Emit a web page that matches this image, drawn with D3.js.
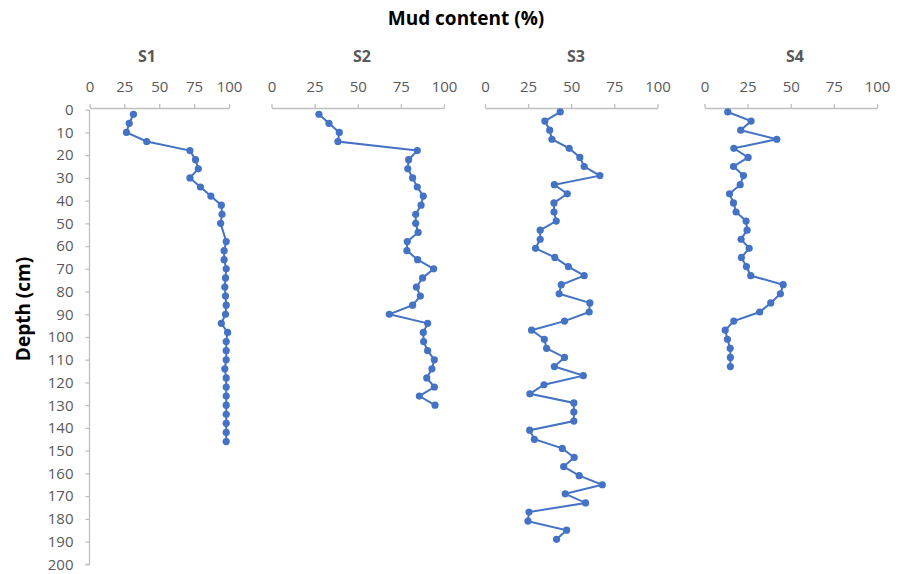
<!DOCTYPE html>
<html lang="en">
<head>
<meta charset="UTF-8">
<title>Mud content profiles</title>
<script src="https://d3js.org/d3.v7.min.js"></script>
<style>
  body { margin: 0; background: #fff; font-family: "Open Sans", "Noto Sans", sans-serif; }
  .axis path, .axis line { stroke: #bfbfbf; stroke-width: 1.3px; }
  .axis text { fill: #595959; font-size: 15px; font-family: "Open Sans", "Noto Sans", sans-serif; }
  .profile { fill: none; stroke: #4472c4; stroke-width: 2px; }
  .dot { fill: #4472c4; }
</style>
</head>
<body>
<svg width="901" height="574"></svg>
<script>
// Mud content (%) by depth (cm)
const stations = ["S1", "S2", "S3", "S4"];

const s1Depth = [2,6,10,14,18,22,26,30,34,38,42,46,50,58,62,66,70,74,78,82,86,90,94,98,102,106,110,114,118,122,126,130,134,138,142,146];
const s1Mud = [31.5,28.5,26.5,41,72,76,78,72,79.5,87,94.5,95,94,98,96.5,96.5,98,97.5,97,97.5,98,97.5,94.5,99,98,98,98,97,98,98,98,98,98,98,98,98];

const s2Depth = [2,6,10,14,18,22,26,30,34,38,42,46,50,54,58,62,66,70,74,78,82,86,90,94,98,102,106,110,114,118,122,126,130];
const s2Mud = [27.5,33.3,39.3,38.5,84.5,79.5,79,81.8,84.5,88,86.7,83.6,83.6,85,78.7,78.5,84.7,94,87.6,84,86.3,81.8,68.3,90.5,88,88.2,90.5,94.4,93,90,94.4,85.7,94.8];

const s3Depth = [1,5,9,13,17,21,25,29,33,37,41,45,49,53,57,61,65,69,73,77,81,85,89,93,97,101,105,109,113,117,121,125,129,133,137,141,145,149,153,157,161,165,169,173,177,181,185,189];
const s3Mud = [43.6,34.7,37.5,38.8,48.8,55,57.5,66.6,40.2,47.7,40,40,41.3,32,32,29.3,40.5,48.3,57.5,44.2,43,60.8,60.4,46.1,27,34.4,35.7,46.1,40.2,57,34.2,26,51.5,51.5,51.5,25.9,28.6,44.8,51.7,45.6,54.6,68,46.5,58.3,25.5,24.9,47.3,41.5];

const s4Depth = [1,5,9,13,17,21,25,29,33,37,41,45,49,53,57,61,65,69,73,77,81,85,89,93,97,101,105,109,113];
const s4Mud = [13.5,27,21,41.9,17,25.3,16.8,22.6,20.7,14.5,16.8,18.3,24.1,24.7,21.2,25.9,21.4,24.3,26.8,45.6,44,38.4,32,17,12,13.3,14.9,15,15];

const depthTicks = d3.range(0, 201, 10);
const mudTicks = [0, 25, 50, 75, 100];

const series = [
  { name: stations[0], depth: s1Depth, mud: s1Mud },
  { name: stations[1], depth: s2Depth, mud: s2Mud },
  { name: stations[2], depth: s3Depth, mud: s3Mud },
  { name: stations[3], depth: s4Depth, mud: s4Mud }
];

// panel layout: x range of each small plot and its title position
const panels = [
  { x0: 89.5, x1: 229, titleX: 147 },
  { x0: 271.5, x1: 444, titleX: 362 },
  { x0: 485, x1: 657.5, titleX: 576 },
  { x0: 704.5, x1: 877, titleX: 795 }
];

const svg = d3.select("svg");
const axisY = 108;

const y = d3.scaleLinear().domain([0, 200]).range([109.7, 564.3]);

// depth axis
const yAxis = svg.append("g")
  .attr("class", "axis")
  .attr("transform", `translate(${panels[0].x0},0)`)
  .call(d3.axisLeft(y).tickValues(depthTicks).tickSize(4).tickPadding(12).tickSizeOuter(0));
yAxis.select(".domain").attr("d", `M-4,${y(200)}H0V${y(0)}`);

series.forEach((s, i) => {
  const p = panels[i];
  const x = d3.scaleLinear().domain([0, 100]).range([p.x0, p.x1]);

  svg.append("g")
    .attr("class", "axis")
    .attr("transform", `translate(0,${axisY})`)
    .call(d3.axisTop(x).tickValues(mudTicks).tickSize(4).tickPadding(12).tickSizeOuter(0));

  svg.append("text")
    .attr("x", p.titleX)
    .attr("y", 62)
    .attr("text-anchor", "middle")
    .attr("font-size", 16)
    .attr("font-weight", "bold")
    .attr("fill", "#595959")
    .text(s.name);

  const pts = s.depth.map((d, k) => ({ depth: d, mud: s.mud[k] }));

  svg.append("path")
    .datum(pts)
    .attr("class", "profile")
    .attr("d", d3.line().x(d => x(d.mud)).y(d => y(d.depth)));

  svg.selectAll(null)
    .data(pts)
    .join("circle")
    .attr("class", "dot")
    .attr("cx", d => x(d.mud))
    .attr("cy", d => y(d.depth))
    .attr("r", 3.6);
});

svg.append("text")
  .attr("x", 466)
  .attr("y", 25)
  .attr("text-anchor", "middle")
  .attr("font-size", 19)
  .attr("font-weight", "bold")
  .attr("fill", "#000")
  .text("Mud content (%)");

svg.append("text")
  .attr("transform", "translate(30,309) rotate(-90)")
  .attr("text-anchor", "middle")
  .attr("font-size", 19)
  .attr("font-weight", "bold")
  .attr("fill", "#000")
  .text("Depth (cm)");
</script>
</body>
</html>
